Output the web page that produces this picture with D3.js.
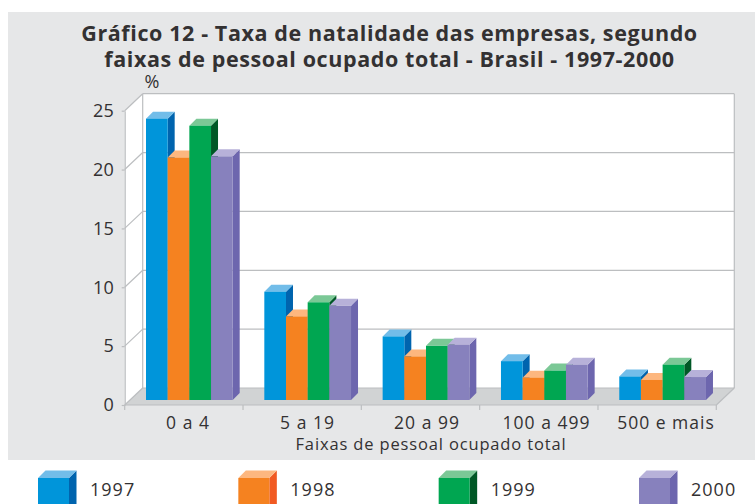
<!DOCTYPE html>
<html>
<head>
<meta charset="utf-8">
<script src="https://cdn.jsdelivr.net/npm/d3@7"></script>
<style>
  body { margin: 0; background: #fff; }
  text { font-family: "Open Sans", sans-serif; fill: #333132; }
</style>
</head>
<body>
<div id="chart"></div>
<script>
const categories = ["0 a 4", "5 a 19", "20 a 99", "100 a 499", "500 e mais"];
const years = ["1997", "1998", "1999", "2000"];
const values1997 = [23.9, 9.2, 5.4, 3.3, 2.0];
const values1998 = [20.6, 7.1, 3.7, 1.9, 1.7];
const values1999 = [23.3, 8.3, 4.6, 2.5, 3.0];
const values2000 = [20.7, 8.0, 4.7, 3.0, 1.95];
const yTicks = [0, 5, 10, 15, 20, 25];
const titleLines = [
    "Gráfico 12 - Taxa de natalidade das empresas, segundo",
    "faixas de pessoal ocupado total - Brasil - 1997-2000"
];

const series = [values1997, values1998, values1999, values2000];
const colors = [
    { front: "#0095da", top: "#72bde9", side: "#0064ae" },
    { front: "#f58220", top: "#fdb77f", side: "#f15a22" },
    { front: "#00a651", top: "#7bc896", side: "#005826" },
    { front: "#8781bd", top: "#b7b1d9", side: "#6d66ae" }
];

const width = 755, height = 504;
const grid = "#bcbec0";
// plot box, front edge of the floor and the shift to the back wall
const box = { left: 124.7, right: 716.3, top: 110.7, bottom: 405, dx: 18, dy: 17 };
const barBase = 400, barDepth = 7;

const svg = d3.select("#chart").append("svg")
    .attr("width", width)
    .attr("height", height)
    .style("display", "block");

svg.append("rect")
    .attr("x", 8).attr("y", 12)
    .attr("width", width - 8).attr("height", 448)
    .attr("fill", "#e6e7e8");

svg.append("g").selectAll("text")
    .data(titleLines)
    .join("text")
    .attr("x", 389.5)
    .attr("y", (d, i) => 41 + i * 25.5)
    .attr("text-anchor", "middle")
    .attr("font-size", 21.5)
    .attr("font-weight", 700)
    .attr("letter-spacing", 0.6)
    .text(d => d);

const x = d3.scaleBand().domain(categories).range([box.left, box.right]);
const xInner = d3.scaleBand().domain(years).range([0, 86.7]);
const y = d3.scaleLinear().domain([0, 25]).range([box.bottom, box.top]);
// the printed labels drift a little to the right of the band centres
const xLabel = d3.scalePoint().domain(categories).range([188, 666]);

// walls and floor
const backLeft = box.left + box.dx, backRight = box.right + box.dx;
const backY = v => y(v) - box.dy;

svg.append("rect")
    .attr("x", backLeft).attr("y", backY(25))
    .attr("width", backRight - backLeft).attr("height", backY(0) - backY(25))
    .attr("fill", "#fff");
svg.append("polygon")
    .attr("points", [[box.left, y(25)], [backLeft, backY(25)], [backLeft, backY(0)], [box.left, y(0)]].join(" "))
    .attr("fill", "#fff");
svg.append("polygon")
    .attr("points", [[box.left, y(0)], [backLeft, backY(0)], [backRight, backY(0)], [box.right, y(0)]].join(" "))
    .attr("fill", "#d1d3d4");

const gridG = svg.append("g")
    .attr("fill", "none")
    .attr("stroke", grid)
    .attr("stroke-width", 1.2);

gridG.selectAll(".back")
    .data(yTicks)
    .join("line")
    .attr("x1", backLeft).attr("x2", backRight)
    .attr("y1", d => backY(d)).attr("y2", d => backY(d));
gridG.selectAll(".slant")
    .data(yTicks)
    .join("line")
    .attr("x1", box.left).attr("x2", backLeft)
    .attr("y1", d => y(d)).attr("y2", d => backY(d));
gridG.append("line")
    .attr("x1", backLeft).attr("x2", backLeft)
    .attr("y1", backY(25)).attr("y2", backY(0));
gridG.append("line")
    .attr("x1", backRight).attr("x2", backRight)
    .attr("y1", backY(25)).attr("y2", backY(0));
gridG.append("line")
    .attr("x1", box.right).attr("x2", backRight)
    .attr("y1", y(0)).attr("y2", backY(0));

// bars
const barHeight = v => y(0) - y(v);

function drawBox(g, x0, w, yTop, yBottom, c, depth) {
    g.append("polygon")
        .attr("points", [[x0 + w, yTop], [x0 + w + depth, yTop - depth], [x0 + w + depth, yBottom - depth], [x0 + w, yBottom]].join(" "))
        .attr("fill", c.side);
    g.append("polygon")
        .attr("points", [[x0, yTop], [x0 + depth, yTop - depth], [x0 + w + depth, yTop - depth], [x0 + w, yTop]].join(" "))
        .attr("fill", c.top);
    g.append("rect")
        .attr("x", x0).attr("y", yTop)
        .attr("width", w).attr("height", yBottom - yTop)
        .attr("fill", c.front);
}

const barsG = svg.append("g");
categories.forEach((cat, i) => {
    years.forEach((yr, j) => {
        const v = series[j][i];
        drawBox(barsG, x(cat) + 21.3 + xInner(yr), xInner.bandwidth(), barBase - barHeight(v), barBase, colors[j], barDepth);
    });
});

// axes
const yAxis = svg.append("g")
    .attr("transform", `translate(${box.left},0)`)
    .call(d3.axisLeft(y).tickValues(yTicks).tickSize(3).tickPadding(8).tickSizeOuter(0));
const xAxis = svg.append("g")
    .attr("transform", `translate(0,${box.bottom})`)
    .call(d3.axisBottom(x).tickSize(0).tickPadding(0));

yAxis.selectAll("path, line").attr("stroke", grid).attr("stroke-width", 1.2);
yAxis.selectAll("text")
    .attr("font-size", 18)
    .attr("font-family", null);

xAxis.select("path").attr("stroke", grid).attr("stroke-width", 1.2).attr("d", `M${box.left},0H${box.right}`);
xAxis.selectAll(".tick line").remove();
xAxis.selectAll(".tick")
    .attr("transform", d => `translate(${xLabel(d)},0)`);
xAxis.selectAll(".tick text")
    .attr("font-size", 17.5)
    .attr("font-family", null)
    .attr("letter-spacing", 1)
    .attr("dy", null)
    .attr("y", 24);

xAxis.selectAll(".edge")
    .data(x.domain().map(d => x(d)).concat(box.right))
    .join("line")
    .attr("x1", d => d).attr("x2", d => d)
    .attr("y1", 0).attr("y2", 5)
    .attr("stroke", grid)
    .attr("stroke-width", 1.2);

svg.append("text")
    .attr("x", 152).attr("y", 88)
    .attr("text-anchor", "middle")
    .attr("font-size", 18)
    .text("%");

svg.append("text")
    .attr("x", 431).attr("y", 450)
    .attr("text-anchor", "middle")
    .attr("font-size", 16.5)
    .attr("letter-spacing", 0.85)
    .text("Faixas de pessoal ocupado total");

// legend
const legendX = d3.scalePoint().domain(years).range([38, 639]);
const legend = svg.append("g");
years.forEach((yr, j) => {
    drawBox(legend, legendX(yr), 31, 478, 512, colors[j], 7.5);
    legend.append("text")
        .attr("x", legendX(yr) + 52)
        .attr("y", 496)
        .attr("font-size", 18)
        .attr("letter-spacing", 1)
        .text(yr);
});
</script>
</body>
</html>
